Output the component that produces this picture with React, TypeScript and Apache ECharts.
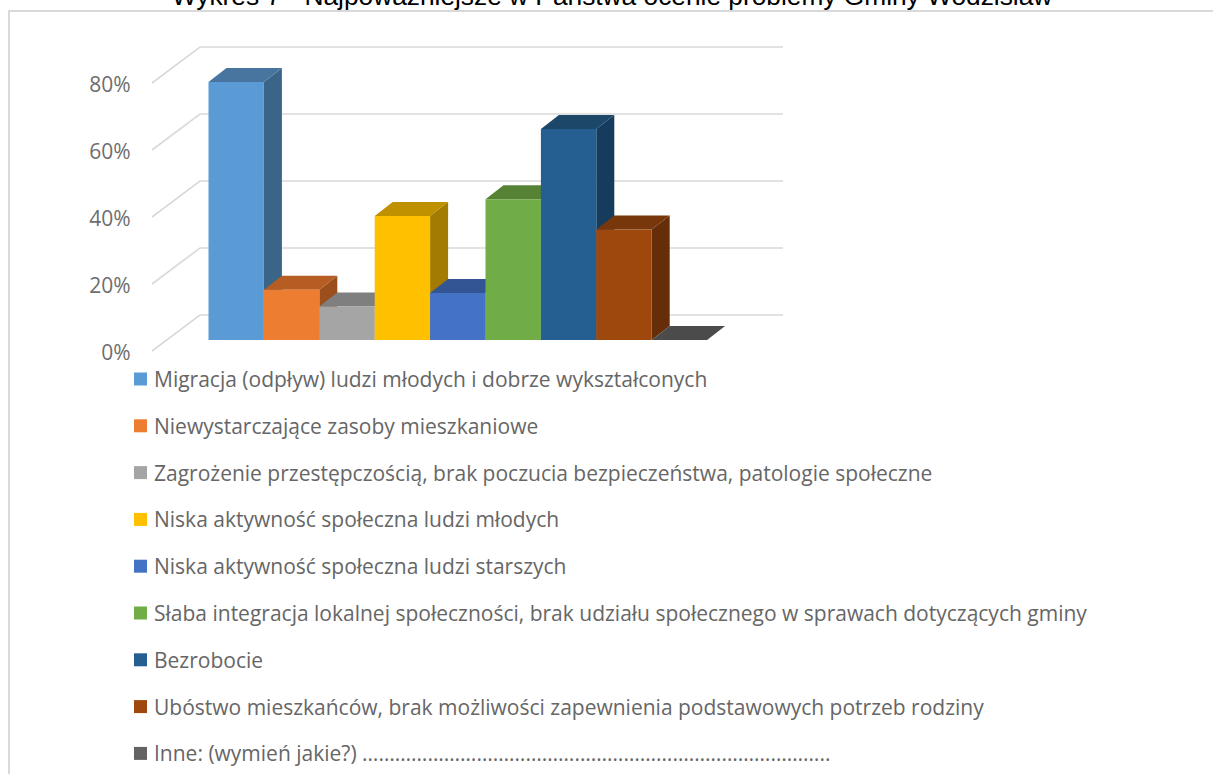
import React, { useEffect, useRef } from "react";
import * as echarts from "echarts";

const titleText = "Wykres 7 - Najpoważniejsze w Państwa ocenie problemy Gminy Wodzisław";
const seriesNames = [
  "Migracja (odpływ) ludzi młodych i dobrze wykształconych",
  "Niewystarczające zasoby mieszkaniowe",
  "Zagrożenie przestępczością, brak poczucia bezpieczeństwa, patologie społeczne",
  "Niska aktywność społeczna ludzi młodych",
  "Niska aktywność społeczna ludzi starszych",
  "Słaba integracja lokalnej społeczności, brak udziału społecznego w sprawach dotyczących gminy",
  "Bezrobocie",
  "Ubóstwo mieszkańców, brak możliwości zapewnienia podstawowych potrzeb rodziny",
  "Inne: (wymień jakie?) " + "…".repeat(28) + "..",
];
const seriesValues = [77, 15, 10, 37, 14, 42, 63, 33, 0];
const frontColors = ["#5B9BD5", "#ED7D31", "#A5A5A5", "#FFC000", "#4472C4", "#70AD47", "#255E91", "#9E480E", "#636363"];
const topColors = ["#4775A0", "#B55D22", "#7F7F7F", "#BF9000", "#335593", "#558235", "#1C4769", "#78360B", "#4B4B4B"];
const sideColors = ["#3A6488", "#9A4F1C", "#6C6C6C", "#A37B00", "#2B4A7F", "#48702D", "#163C5D", "#652E09", "#404040"];
const gridTicks = [0, 20, 40, 60, 80];

export default function App() {
  const ref = useRef<HTMLDivElement>(null);
  useEffect(() => {
    const chart = echarts.init(ref.current!, undefined, { renderer: "svg" });
    const gridLeft = 208.5;
    const barSlots = seriesNames.map((_, i) => String(i));
    const depthX = 18;
    const depthY = 14;
    const planeY = 12;

    const gridSeries: any = {
      type: "custom",
      name: "__grid",
      coordinateSystem: "cartesian2d",
      z: 1,
      silent: true,
      data: gridTicks.map((t) => [0, t]),
      encode: { x: 0, y: 1 },
      renderItem: (_p: any, api: any) => {
        const y = api.coord([0, api.value(1)])[1];
        return {
          type: "polyline",
          shape: { points: [[152, y - 1], [200, y - 37], [783, y - 37]] },
          style: { stroke: "#D9D9D9", fill: "none", lineWidth: 1.6 },
        };
      },
    };

    const barSeries: any[] = seriesNames.map((name, i) => ({
      type: "custom",
      name,
      coordinateSystem: "cartesian2d",
      z: 2,
      silent: true,
      itemStyle: { color: frontColors[i] },
      data: [[barSlots[i], seriesValues[i]]],
      encode: { x: 0, y: 1 },
      renderItem: (_p: any, api: any) => {
        const c0 = api.coord([api.value(0), 0]);
        const c1 = api.coord([api.value(0), api.value(1)]);
        const w = api.size([1, 0])[0];
        const l = c0[0] - w / 2;
        const r = l + w;
        const b = c0[1] - planeY;
        const t = c1[1] - planeY;
        return {
          type: "group",
          children: [
            {
              type: "polygon",
              shape: { points: [[r, b], [r + depthX, b - depthY], [r + depthX, t - depthY], [r, t]] },
              style: { fill: sideColors[i] },
            },
            {
              type: "polygon",
              shape: { points: [[l, t], [l + depthX, t - depthY], [r + depthX, t - depthY], [r, t]] },
              style: { fill: topColors[i] },
            },
            {
              type: "rect",
              shape: { x: l, y: t, width: w, height: b - t },
              style: { fill: frontColors[i] },
            },
          ],
        };
      },
    }));

    chart.setOption({
      animation: false,
      backgroundColor: "#FFFFFF",
      title: {
        text: titleText,
        left: 607,
        top: -22,
        textAlign: "center",
        textStyle: { fontFamily: "Liberation Sans", fontSize: 26.3, fontWeight: "normal", color: "#000000" },
      },
      graphic: [
        {
          type: "polyline",
          z: 0,
          shape: { points: [[9, 774], [9, 11], [1213, 11]] },
          style: { stroke: "#D9D9D9", fill: "none", lineWidth: 2 },
        },
      ],
      grid: { left: gridLeft, top: 84, width: 498.6, height: 268 },
      xAxis: {
        type: "category",
        data: barSlots,
        axisLine: { show: false },
        axisTick: { show: false },
        axisLabel: { show: false },
        splitLine: { show: false },
      },
      yAxis: {
        type: "value",
        min: 0,
        max: 80,
        interval: 20,
        axisLine: { show: false },
        axisTick: { show: false },
        splitLine: { show: false },
        axisLabel: {
          formatter: "{value}%",
          margin: 78,
          color: "#6E6E6E",
          fontFamily: "Open Sans",
          fontSize: 21,
        },
      },
      legend: {
        orient: "vertical",
        left: 134,
        top: 366,
        height: 600,
        padding: 0,
        icon: "rect",
        itemWidth: 13,
        itemHeight: 13,
        itemGap: 20.8,
        selectedMode: false,
        data: seriesNames,
        textStyle: {
          fontFamily: "Open Sans",
          fontSize: 21,
          color: "#666666",
          height: 26,
          lineHeight: 26,
          padding: [0, 0, 0, 2],
        },
      },
      series: [gridSeries, ...barSeries],
    });
    return () => chart.dispose();
  }, []);
  return <div ref={ref} style={{ position: "absolute", left: 0, top: 0, width: 1213, height: 774 }} />;
}
